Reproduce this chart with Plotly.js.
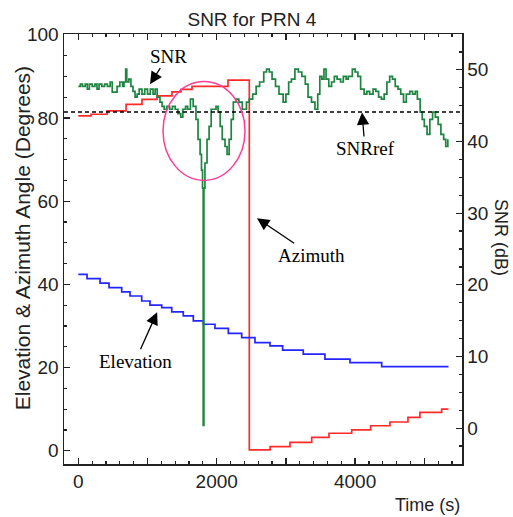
<!DOCTYPE html>
<html>
<head>
<meta charset="utf-8">
<script src="https://cdn.plot.ly/plotly-3.0.1.min.js"></script>
<style>html,body{margin:0;padding:0;background:#fff;}#chart{width:513px;height:517px;}</style>
</head>
<body>
<div id="chart"></div>
<script>
// SNR (dB, right axis)
const snrTime = [0,30,60,100,130,160,200,240,270,300,340,380,420,460,490,560,600,640,660,685,700,730,760,790,820,850,880,920,960,1000,1040,1080,1110,1140,1180,1210,1240,1280,1320,1360,1400,1440,1480,1510,1550,1580,1620,1660,1700,1730,1760,1780,1795,1805,1815,1830,1860,1890,1920,1950,1990,2020,2050,2080,2120,2150,2180,2210,2240,2280,2320,2370,2430,2470,2520,2570,2620,2680,2720,2760,2800,2850,2900,2960,3000,3040,3080,3130,3180,3230,3280,3320,3370,3420,3460,3490,3520,3550,3580,3620,3660,3700,3740,3790,3830,3870,3900,3960,4000,4040,4080,4130,4170,4210,4260,4300,4340,4380,4420,4460,4500,4540,4580,4620,4660,4700,4740,4790,4830,4870,4900,4940,4970,5000,5040,5080,5120,5160,5200,5240,5280,5310,5340];
const snrValue = [47.7,48.0,47.7,48.0,47.3,48.0,47.7,48.0,47.3,48.0,47.7,48.0,47.7,48.3,46.9,47.7,48.3,47.7,48.3,50.1,48.3,48.7,47.7,47.0,46.2,46.6,47.3,46.6,47.3,46.6,47.3,46.6,47.3,46.2,45.5,44.9,44.5,44.9,44.5,44.9,44.5,43.9,43.4,44.5,44.9,44.5,45.9,44.9,43.1,40.3,38.2,36.0,33.5,0.4,33.5,37.0,40.3,42.1,44.5,44.5,44.9,44.1,42.1,40.3,39.3,38.2,40.3,43.1,45.5,45.9,45.5,44.5,45.5,45.9,46.6,47.7,48.3,49.7,50.1,49.7,48.7,47.7,46.6,45.5,46.6,48.3,48.7,50.1,49.7,49.1,48.0,46.2,45.5,44.5,46.6,49.1,48.7,50.1,48.7,47.7,48.3,49.1,48.7,48.3,49.1,48.7,49.1,50.1,49.7,49.1,47.3,46.6,47.0,46.6,47.3,47.0,46.2,45.9,46.6,48.3,49.1,48.7,47.7,47.3,46.6,45.5,46.6,47.0,46.6,47.0,45.9,44.1,43.1,42.1,41.0,43.1,44.1,43.4,42.4,41.0,40.3,39.3,40.3];
const snrRef = 44.1;

// Azimuth (degrees, left axis)
const azTime = [0,184,415,690,920,1137,1354,1484,1643,2163,2471,2772,3059,3373,3623,3951,4225,4504,4764,4937,5251,5350];
const azValue = [80.5,80.9,81.7,83.3,84.5,85.3,86.3,86.9,87.6,89.1,0.2,1.0,2.0,3.2,4.2,5.0,6.0,6.9,8.0,9.2,10.0,10.0];

// Elevation (degrees, left axis)
const elTime = [0,126,314,444,627,747,916,1036,1205,1350,1517,1662,1806,1975,2168,2361,2553,2770,2953,3251,3564,3926,4384,5350];
const elValue = [42.4,41.4,40.3,39.2,38.2,37.2,36.0,35.0,34.4,33.4,32.4,31.2,30.4,29.4,28.2,27.2,26.0,25.2,24.2,23.2,22.0,21.2,20.2,20.2];

const xTickVals = [0,1000,2000,3000,4000,5000];
const xTickText = ['0','','2000','','4000',''];

const tickFont = {family:'Liberation Sans, Arial, sans-serif', size:19, color:'#222'};
const serif = {family:'Liberation Serif, Times New Roman, serif', size:19, color:'#000'};

const traces = [
  {x:azTime, y:azValue, yaxis:'y', mode:'lines', line:{shape:'hv', color:'#ff2a2a', width:1.7}, name:'Azimuth'},
  {x:elTime, y:elValue, yaxis:'y', mode:'lines', line:{shape:'hv', color:'#2424ff', width:1.7}, name:'Elevation'},
  {x:snrTime, y:snrValue, yaxis:'y2', mode:'lines', line:{shape:'hv', color:'#1d8540', width:1.7}, name:'SNR'}
];

const axCommon = {
  ticks:'inside', ticklen:6, tickwidth:1.3, tickcolor:'#222',
  showline:true, linecolor:'#222', linewidth:1.5,
  showgrid:false, zeroline:false, tickfont:tickFont
};

const layout = {
  width:513, height:517,
  margin:{l:64, r:51, t:34, b:53},
  paper_bgcolor:'#fff', plot_bgcolor:'#fff',
  showlegend:false,
  title:{text:'SNR for PRN 4', font:{family:'Liberation Sans, Arial, sans-serif', size:19, color:'#222'}, x:0.491, xanchor:'center', y:0.962, yanchor:'middle', xref:'container', yref:'container'},
  xaxis:Object.assign({}, axCommon, {
    range:[-207,5545], tickmode:'array', tickvals:xTickVals, ticktext:xTickText,
    mirror:'ticks',
    minor:{tickmode:'linear', tick0:0, dtick:200, ticks:'inside', ticklen:3, tickcolor:'#222', tickwidth:1.2}
  }),
  yaxis:Object.assign({}, axCommon, {
    range:[-3.2,100.2], tick0:0, dtick:20,
    minor:{tick0:0, dtick:5, ticks:'inside', ticklen:3, tickcolor:'#222', tickwidth:1.2}
  }),
  yaxis2:Object.assign({}, axCommon, {
    overlaying:'y', side:'right', range:[-5,55], tick0:0, dtick:10,
    minor:{tick0:0, dtick:2.5, ticks:'inside', ticklen:3, tickcolor:'#222', tickwidth:1.2}
  }),
  shapes:[
    {type:'line', xref:'paper', x0:0, x1:1, yref:'y2', y0:snrRef, y1:snrRef, line:{color:'#000', width:1.5, dash:'4px,3px'}},
    {type:'circle', xref:'x', yref:'y', x0:1224, x1:2409, y0:65.0, y1:88.8, line:{color:'#ff3d99', width:1.5}}
  ],
  annotations:[
    {text:'Elevation & Azimuth Angle (Degrees)', xref:'paper', yref:'paper', x:-0.1055, y:0.525, textangle:-90, showarrow:false, xanchor:'center', yanchor:'middle', font:{family:'Liberation Sans, Arial, sans-serif', size:21, color:'#222'}},
    {text:'SNR (dB)', xref:'paper', yref:'paper', x:1.098, y:0.528, textangle:90, showarrow:false, xanchor:'center', yanchor:'middle', font:{family:'Liberation Sans, Arial, sans-serif', size:18, color:'#222'}},
    {text:'Time (s)', xref:'paper', yref:'paper', x:1, y:-0.095, xanchor:'right', yanchor:'middle', showarrow:false, font:{family:'Liberation Sans, Arial, sans-serif', size:18, color:'#222'}},
    {text:'SNR', xref:'x', yref:'y2', x:1036, y:48.0, ax:18, ay:-28, showarrow:true, arrowhead:2, arrowsize:1.9, arrowwidth:1.3, arrowcolor:'#000', font:serif},
    {text:'SNRref', xref:'x', yref:'y2', x:4100, y:44.05, ax:3, ay:36, showarrow:true, arrowhead:2, arrowsize:1.9, arrowwidth:1.3, arrowcolor:'#000', font:serif},
    {text:'Azimuth', xref:'x', yref:'y', x:2582, y:55.9, ax:55, ay:37, showarrow:true, arrowhead:2, arrowsize:1.9, arrowwidth:1.3, arrowcolor:'#000', font:serif},
    {text:'Elevation', xref:'x', yref:'y', x:1139, y:33.3, ax:-22, ay:49, showarrow:true, arrowhead:2, arrowsize:1.9, arrowwidth:1.3, arrowcolor:'#000', font:serif}
  ]
};

Plotly.newPlot('chart', traces, layout, {displayModeBar:false, staticPlot:true});
</script>
</body>
</html>
